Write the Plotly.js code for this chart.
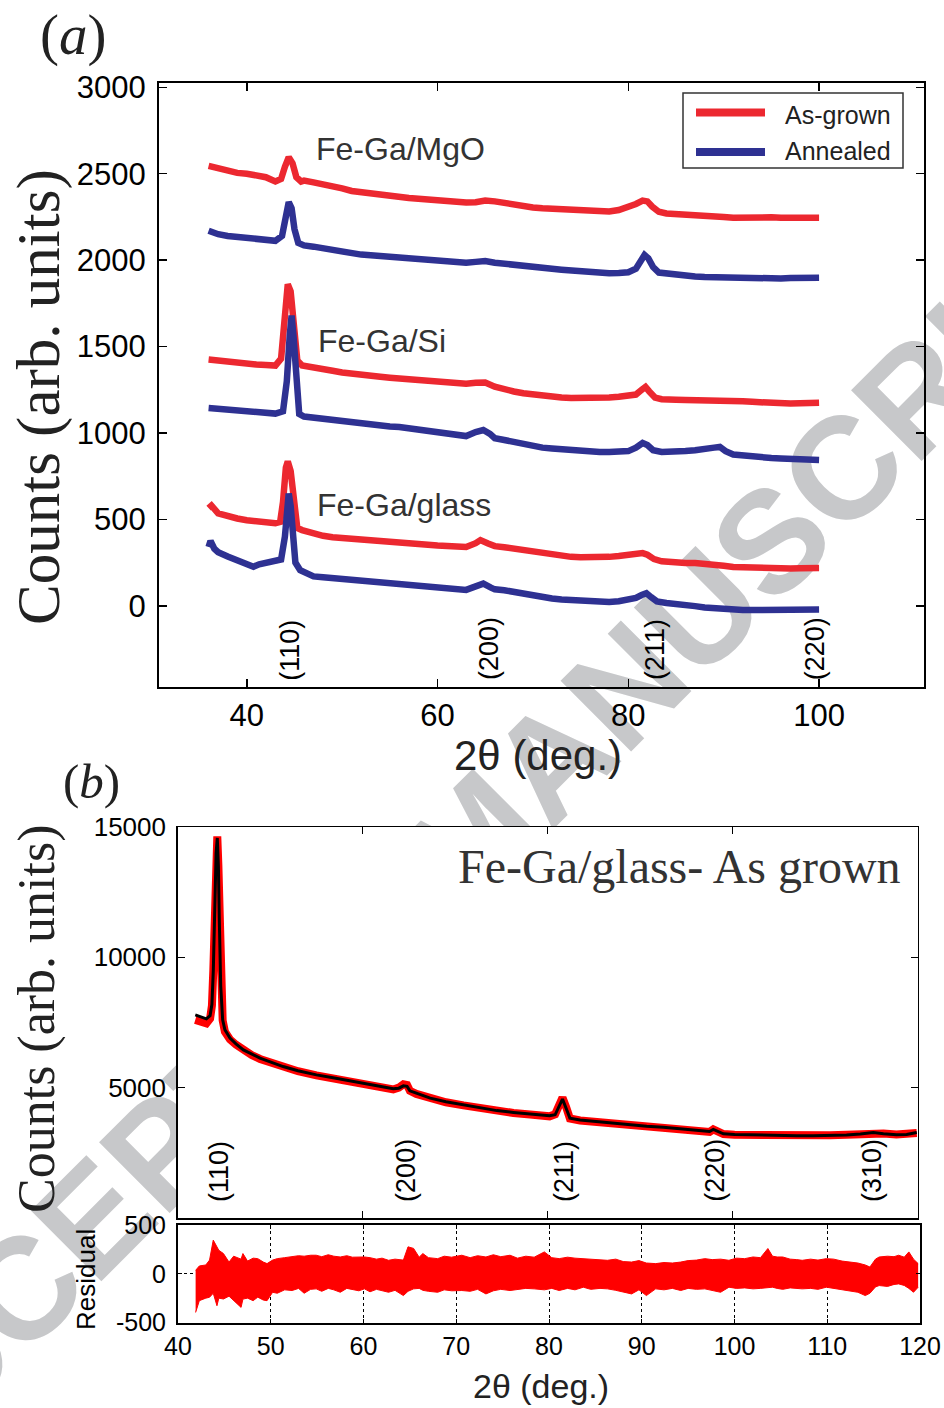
<!DOCTYPE html>
<html><head><meta charset="utf-8">
<script src="https://cdn.plot.ly/plotly-3.0.1.min.js"></script>
<style>html,body{margin:0;padding:0;background:#fff;}#chart{width:944px;height:1408px;}</style>
</head><body><div id="chart"></div>
<script>
// ---------- Panel (a): XRD patterns, 2theta (deg) vs counts (offset) ----------
const mgoAsX = [36,37,38,39,40,41,42,43,43.6,44,44.4,44.8,45.2,45.7,46,47,48,49,50,51,52,53,54,55,56,57,58,59,60,61,62,63,64,65,66,67,68,69,70,71,72,73,74,75,76,77,78,79,80,80.8,81.5,82,82.5,83.2,84,85,86,87,88,89,90,91,92,93,94,95,96,97,98,99,100];
const mgoAsY = [2545,2530,2515,2505,2500,2490,2480,2455,2470,2540,2595,2560,2480,2455,2460,2450,2440,2425,2415,2400,2392,2385,2380,2372,2365,2360,2355,2350,2345,2340,2336,2333,2335,2345,2340,2330,2320,2310,2305,2300,2298,2292,2290,2288,2285,2280,2282,2290,2305,2325,2345,2340,2310,2280,2270,2268,2262,2260,2258,2255,2250,2245,2248,2243,2250,2248,2245,2243,2245,2242,2245];

const mgoAnX = [36,37,38,39,40,41,42,43,43.7,44.1,44.4,44.7,45,45.4,46,47,48,49,50,51,52,53,54,55,56,57,58,59,60,61,62,63,64,65,66,67,68,69,70,71,72,73,74,75,76,77,78,79,80,80.8,81.3,81.7,82.1,82.6,83.2,84,85,86,87,88,89,90,91,92,93,94,95,96,97,98,99,100];
const mgoAnY = [2170,2150,2140,2135,2128,2120,2115,2112,2140,2250,2335,2300,2180,2100,2085,2078,2068,2058,2050,2042,2032,2028,2024,2020,2016,2010,2006,2000,1996,1992,1988,1985,1990,1995,1985,1978,1970,1962,1958,1955,1950,1945,1940,1936,1932,1926,1924,1926,1930,1950,1995,2030,2010,1960,1928,1922,1915,1910,1905,1902,1900,1898,1896,1895,1894,1896,1895,1894,1896,1898,1896,1898];

const siAsX = [36,37,38,39,40,41,42,43,43.6,44,44.3,44.6,44.9,45.3,45.8,46.5,47,48,49,50,51,52,53,54,55,56,57,58,59,60,61,62,63,64,65,66,67,68,69,70,71,72,73,74,75,76,77,78,79,80,80.8,81.4,81.8,82.2,82.8,83.5,84,85,86,87,88,89,90,91,92,93,94,95,96,97,98,99,100];
const siAsY = [1425,1418,1412,1405,1400,1396,1393,1390,1430,1650,1860,1820,1600,1420,1390,1385,1375,1368,1360,1350,1342,1335,1330,1325,1320,1315,1310,1305,1302,1300,1295,1290,1285,1290,1292,1268,1250,1240,1230,1222,1215,1210,1205,1202,1202,1200,1202,1205,1210,1215,1222,1250,1266,1240,1205,1195,1192,1192,1190,1190,1191,1190,1188,1186,1183,1180,1176,1173,1172,1170,1172,1170,1175];

const siAnX = [36,37,38,39,40,41,42,43,43.8,44.2,44.5,44.7,44.9,45.2,45.5,46,47,48,49,50,51,52,53,54,55,56,57,58,59,60,61,62,63,64,64.8,65.5,66,67,68,69,70,71,72,73,74,75,76,77,78,79,80,80.8,81.5,82,82.6,83.5,84,85,86,87,88,89,89.6,90.2,91,92,93,94,95,96,97,98,99,100];
const siAnY = [1145,1140,1133,1128,1122,1118,1116,1112,1125,1300,1560,1680,1560,1300,1110,1095,1088,1080,1075,1068,1060,1050,1045,1040,1037,1035,1028,1022,1018,1012,1000,990,982,1005,1017,995,970,959,948,935,922,915,910,905,901,897,893,890,890,890,895,915,942,930,900,890,890,892,895,900,903,915,919,895,875,868,862,858,855,852,848,845,846,843];

const glassAsX = [36,36.3,37,38,39,40,41,42,43,43.5,43.8,44.1,44.3,44.6,44.9,45.3,45.8,46.5,47,48,49,50,51,52,53,54,55,56,57,58,59,60,61,62,63,64,64.5,65.3,66,67,68,69,70,71,72,73,74,75,76,77,78,79,80,80.8,81.5,82,82.7,83.5,84.3,85,86,87,88,89,90,91,92,93,94,95,96,97,98,99,100];
const glassAsY = [565,580,535,518,505,495,488,480,478,485,600,800,835,780,600,450,438,425,418,405,397,392,388,382,376,372,366,362,358,355,352,349,346,342,340,362,380,360,345,339,330,320,312,305,298,290,283,281,280,281,283,288,294,300,305,295,270,257,252,250,248,247,244,238,232,225,222,220,218,217,216,216,217,216,218];

const glassAnX = [36,36.2,36.6,37,38,39,40,40.7,41.3,42,43,43.6,44,44.2,44.4,44.6,44.8,45.1,45.6,46.3,47,48,49,50,51,52,53,54,55,56,57,58,59,60,61,62,63,64,64.8,65.6,66,67,68,69,70,71,72,73,74,75,76,77,78,79,80,80.8,81.4,81.9,82.4,83,84,85,86,87,88,89,90,91,92,93,94,95,96,97,98,99,100];
const glassAnY = [340,375,330,310,285,262,238,226,240,246,258,268,400,560,650,580,420,250,206,185,170,165,160,156,152,149,145,140,135,131,125,118,111,105,100,95,92,112,128,105,95,90,80,68,55,48,42,36,33,30,26,22,22,26,33,45,62,73,50,25,16,12,6,-2,-10,-16,-20,-24,-25,-25,-24,-25,-24,-23,-24,-25,-22];

const sampleLabels = ['Fe-Ga/MgO','Fe-Ga/Si','Fe-Ga/glass'];
const seriesNames = ['As-grown','Annealed'];
const hklA = ['(110)','(200)','(211)','(220)'];
const hklPosA = [44.5,65.4,82.8,99.6];
const yTicksA = [0,500,1000,1500,2000,2500,3000];
const yTickTextA = ['0','500','1000','1500','2000','2500','3000'];
const xTicksA = [40,60,80,100];
const xTickTextA = ['40','60','80','100'];

// ---------- Panel (b): Fe-Ga/glass as grown, observed, fit and residual ----------
const twoThetaB = [41.9,42.5,43.1,43.5,43.7,43.85,44.0,44.15,44.28,44.4,44.5,44.65,44.86,45.1,45.65,46.3,47.1,48.0,48.9,50.0,51.4,53.0,55.0,56.8,58.6,60.4,62.2,63.3,63.9,64.4,64.8,65.1,65.8,67.3,69.0,70.9,72.7,74.5,76.3,78.1,79.5,80.2,80.8,81.2,81.6,82.0,82.4,83.5,85.3,87.0,88.9,90.7,92.5,94.3,96.1,97.5,97.9,98.3,99.0,100.2,101.5,103.3,105.1,106.9,108.7,110.5,112.3,113.8,115.2,116.3,117.7,118.8,119.9];
const obsB = [7600,7520,7470,7650,8150,9500,12000,14100,14640,13500,11400,8900,7580,7150,6850,6650,6420,6250,6100,5960,5800,5630,5470,5360,5260,5140,5020,4930,5000,5130,5100,4880,4760,4580,4440,4320,4210,4110,4030,3970,3920,3900,3980,4300,4620,4250,3820,3740,3680,3610,3550,3500,3460,3400,3330,3300,3400,3330,3220,3190,3180,3170,3160,3170,3160,3175,3190,3220,3290,3240,3200,3220,3260];
const fitB = [7790,7700,7640,7760,8200,9500,12000,14000,14580,13500,11400,8900,7600,7220,6900,6680,6450,6280,6130,5990,5810,5650,5490,5380,5270,5160,5040,4960,4980,5070,5050,4880,4790,4600,4460,4340,4230,4120,4050,3990,3940,3920,3960,4250,4560,4200,3830,3760,3700,3630,3570,3520,3480,3420,3350,3320,3400,3340,3230,3200,3190,3170,3160,3160,3160,3170,3185,3220,3275,3230,3190,3200,3280];

const resX = [41.9,42.3,43.0,43.4,43.8,44.2,44.4,44.9,45.5,46.0,46.8,47.0,47.5,48.1,48.6,49.2,49.6,50.2,50.7,51.5,52.3,53.0,53.6,54.3,54.9,55.5,56.2,56.8,57.5,58.2,58.8,59.5,60.1,60.7,61.4,62.0,62.7,63.4,64.3,64.8,65.4,66.0,66.4,67.0,68.0,68.7,69.5,70.6,71.5,72.3,73.2,74.0,74.8,75.8,76.6,77.5,78.4,79.5,80.3,81.1,82.0,82.8,83.7,84.5,85.5,86.3,87.2,88.0,88.9,89.7,90.5,91.5,92.4,93.3,94.2,95.0,95.9,96.8,97.6,98.5,99.4,100.2,101.1,102.0,102.8,103.6,104.1,104.6,105.2,106.0,106.7,107.3,108.2,109.0,109.9,110.7,111.6,112.5,113.3,114.1,114.6,115.2,115.6,116.5,117.2,117.7,118.3,118.8,119.3,119.8];
const resUpper = [35,80,90,140,345,280,241,207,120,180,150,207,130,160,155,120,104,140,155,165,172,185,180,190,190,175,195,180,172,185,170,175,172,165,150,160,138,150,140,276,260,170,207,165,155,180,170,190,165,185,172,195,175,190,160,180,170,224,165,155,170,160,155,150,145,138,150,125,120,135,110,104,115,110,120,135,140,155,145,150,138,160,155,172,165,259,180,172,172,150,145,138,150,140,155,150,130,120,110,90,69,150,172,180,175,190,170,224,150,104];
const resLower = [-397,-276,-250,-241,-200,-328,-250,-259,-230,-276,-345,-260,-250,-276,-240,-270,-276,-190,-200,-165,-172,-150,-200,-160,-155,-180,-150,-165,-190,-150,-160,-175,-155,-185,-160,-175,-190,-170,-224,-180,-155,-150,-170,-180,-190,-165,-175,-172,-180,-160,-207,-175,-160,-172,-165,-150,-155,-165,-150,-172,-150,-165,-138,-160,-150,-155,-170,-190,-207,-165,-224,-155,-165,-150,-172,-150,-160,-155,-175,-190,-138,-150,-145,-155,-150,-140,-138,-150,-160,-145,-150,-155,-150,-160,-138,-150,-160,-172,-190,-224,-200,-135,-121,-130,-110,-104,-120,-150,-190,-138];

const hklB = ['(110)','(200)','(211)','(220)','(310)'];
const hklPosB = [44.4,64.6,81.7,98.1,115.0];
const xTicksB = [40,60,80,100,120];
const yTicksB = [5000,10000,15000];
const yTickTextB = ['5000','10000','15000'];
const xTicksRes = [40,50,60,70,80,90,100,110,120];
const xTickTextRes = ['40','50','60','70','80','90','100','110','120'];
const yTicksRes = [-500,0,500];
const yTickTextRes = ['-500','0','500'];
const watermarkText = 'ACCEPTED MANUSCRIPT';

// ---------- helpers: page pixel -> paper fraction ----------
const W = 944, H = 1408;
const fx = p => p / W;
const fy = p => 1 - p / H;

const RED_A = '#ec2830', BLUE_A = '#2e3192';
const SANS = 'Liberation Sans, Arial, sans-serif';
const SERIF = 'Liberation Serif, Times New Roman, serif';

const lineA = (x, y, color, name) => ({
  x, y, type: 'scatter', mode: 'lines', name, xaxis: 'x', yaxis: 'y',
  line: {color, width: 6.5}, showlegend: false, hoverinfo: 'x+y'
});

const traces = [
  lineA(mgoAsX, mgoAsY, RED_A, seriesNames[0] + ' ' + sampleLabels[0]),
  lineA(mgoAnX, mgoAnY, BLUE_A, seriesNames[1] + ' ' + sampleLabels[0]),
  lineA(siAsX, siAsY, RED_A, seriesNames[0] + ' ' + sampleLabels[1]),
  lineA(siAnX, siAnY, BLUE_A, seriesNames[1] + ' ' + sampleLabels[1]),
  lineA(glassAsX, glassAsY, RED_A, seriesNames[0] + ' ' + sampleLabels[2]),
  lineA(glassAnX, glassAnY, BLUE_A, seriesNames[1] + ' ' + sampleLabels[2]),
  {x: twoThetaB, y: obsB, type: 'scatter', mode: 'lines', name: 'Observed', xaxis: 'x2', yaxis: 'y2',
   line: {color: '#ff0000', width: 8}, showlegend: false},
  {x: twoThetaB, y: fitB, type: 'scatter', mode: 'lines', name: 'Fit', xaxis: 'x2', yaxis: 'y2',
   line: {color: '#000000', width: 3}, showlegend: false},
  {x: resX, y: resUpper, type: 'scatter', mode: 'lines', name: 'Residual max', xaxis: 'x3', yaxis: 'y3',
   line: {color: '#ff0000', width: 1}, showlegend: false},
  {x: resX, y: resLower, type: 'scatter', mode: 'lines', name: 'Residual min', xaxis: 'x3', yaxis: 'y3',
   line: {color: '#ff0000', width: 1}, fill: 'tonexty', fillcolor: '#ff0000', showlegend: false}
];

const axBase = {
  showline: true, linecolor: '#000', mirror: 'ticks', ticks: 'inside', tickcolor: '#000',
  showgrid: false, zeroline: false, automargin: false, tickmode: 'array'
};

const annotations = [];
const ann = (o) => annotations.push(Object.assign({showarrow: false, xref: 'paper', yref: 'paper'}, o));

// panel labels
ann({text: '(<i>a</i>)', x: fx(38), y: fy(35), xanchor: 'left', yanchor: 'middle', font: {family: SERIF, size: 57, color: '#222'}});
ann({text: '(<i>b</i>)', x: fx(61), y: fy(781), xanchor: 'left', yanchor: 'middle', font: {family: SERIF, size: 49, color: '#222'}});
// axis titles
ann({text: 'Counts (arb. units)', x: fx(39), y: fy(397), xanchor: 'center', yanchor: 'middle', textangle: -90, font: {family: SERIF, size: 61, color: '#222'}});
ann({text: 'Counts (arb. units)', x: fx(37), y: fy(1019), xanchor: 'center', yanchor: 'middle', textangle: -90, font: {family: SERIF, size: 52, color: '#222'}});
ann({text: 'Residual', x: fx(86), y: fy(1280), xanchor: 'center', yanchor: 'middle', textangle: -90, font: {family: SANS, size: 26, color: '#000'}});
ann({text: '2θ (deg.)', x: fx(538), y: fy(755), xanchor: 'center', yanchor: 'middle', font: {family: SANS, size: 42, color: '#222'}});
ann({text: '2θ (deg.)', x: fx(541), y: fy(1386), xanchor: 'center', yanchor: 'middle', font: {family: SANS, size: 34, color: '#222'}});
// sample labels
ann({text: sampleLabels[0], x: fx(314), y: fy(149), xanchor: 'left', yanchor: 'middle', font: {family: SANS, size: 32, color: '#333'}});
ann({text: sampleLabels[1], x: fx(316), y: fy(341), xanchor: 'left', yanchor: 'middle', font: {family: SANS, size: 32, color: '#333'}});
ann({text: sampleLabels[2], x: fx(315), y: fy(505), xanchor: 'left', yanchor: 'middle', font: {family: SANS, size: 32, color: '#333'}});
ann({text: 'Fe-Ga/glass- As grown', x: fx(456), y: fy(866), xanchor: 'left', yanchor: 'middle', font: {family: SERIF, size: 48, color: '#333'}});
// legend text
ann({text: seriesNames[0], x: fx(783), y: fy(115), xanchor: 'left', yanchor: 'middle', font: {family: SANS, size: 25, color: '#222'}});
ann({text: seriesNames[1], x: fx(783), y: fy(150.5), xanchor: 'left', yanchor: 'middle', font: {family: SANS, size: 25, color: '#222'}});
// hkl labels
hklA.forEach((t, i) => annotations.push({text: t, x: hklPosA[i], xref: 'x', y: 0.009, yref: 'y domain',
  xanchor: 'center', yanchor: 'bottom', textangle: -90, showarrow: false, borderpad: 0,
  font: {family: SANS, size: 27, color: '#000'}}));
hklB.forEach((t, i) => annotations.push({text: t, x: hklPosB[i], xref: 'x2', y: 0.038, yref: 'y2 domain',
  xanchor: 'center', yanchor: 'bottom', textangle: -90, showarrow: false, borderpad: 0,
  font: {family: SANS, size: 27, color: '#000'}}));

const shapes = [
  // watermark (behind everything)
  {type: 'rect', xref: 'paper', yref: 'paper', x0: fx(460), x1: fx(470), y0: fy(832), y1: fy(822),
   line: {width: 0}, fillcolor: 'rgba(0,0,0,0)', layer: 'below',
   label: {text: watermarkText, textangle: -45, textposition: 'middle center',
     font: {family: SANS, size: 145, color: '#c7c8ca', weight: 'bold'}}},
  // opaque backgrounds of panel (b)
  {type: 'rect', xref: 'paper', yref: 'paper', x0: fx(177.7), x1: fx(917.7), y0: fy(1218), y1: fy(827),
   line: {width: 0}, fillcolor: '#fff', layer: 'below'},
  {type: 'rect', xref: 'paper', yref: 'paper', x0: fx(178), x1: fx(920), y0: fy(1322.5), y1: fy(1225),
   line: {width: 0}, fillcolor: '#fff', layer: 'below'},
  // legend frame and samples
  {type: 'rect', xref: 'paper', yref: 'paper', x0: fx(683), x1: fx(903), y0: fy(168), y1: fy(93),
   line: {color: '#333', width: 1.5}, fillcolor: '#fff', layer: 'above'},
  {type: 'line', xref: 'paper', yref: 'paper', x0: fx(696), x1: fx(765), y0: fy(112.5), y1: fy(112.5),
   line: {color: RED_A, width: 8}, layer: 'above'},
  {type: 'line', xref: 'paper', yref: 'paper', x0: fx(696), x1: fx(765), y0: fy(152), y1: fy(152),
   line: {color: BLUE_A, width: 8}, layer: 'above'}
];

const layout = {
  width: W, height: H, margin: {l: 0, r: 0, t: 0, b: 0},
  paper_bgcolor: '#fff', plot_bgcolor: 'rgba(0,0,0,0)',
  font: {family: SANS, color: '#000'},
  showlegend: false,
  xaxis: Object.assign({}, axBase, {domain: [fx(159), fx(924)], range: [30.8, 111], anchor: 'y',
    tickvals: xTicksA, ticktext: xTickTextA, ticklen: 8, tickwidth: 1.5, linewidth: 2,
    tickfont: {size: 31, family: SANS}, ticklabelstandoff: 0}),
  yaxis: Object.assign({}, axBase, {domain: [fy(687), fy(83)], range: [-470, 3025], anchor: 'x',
    tickvals: yTicksA, ticktext: yTickTextA, ticklen: 8, tickwidth: 1.5, linewidth: 2,
    tickfont: {size: 31, family: SANS}, ticklabelstandoff: 5}),
  xaxis2: Object.assign({}, axBase, {domain: [fx(177.7), fx(917.7)], range: [40, 120], anchor: 'y2',
    tickvals: xTicksB, showticklabels: false, ticklen: 7, tickwidth: 1, linewidth: 1.5}),
  yaxis2: Object.assign({}, axBase, {domain: [fy(1218), fy(827)], range: [0, 15000], anchor: 'x2',
    tickvals: yTicksB, ticktext: yTickTextB, ticklen: 7, tickwidth: 1, linewidth: 1.5,
    tickfont: {size: 26, family: SANS}, ticklabelstandoff: 5}),
  xaxis3: Object.assign({}, axBase, {domain: [fx(178), fx(920)], range: [40, 120], anchor: 'y3',
    tickvals: xTicksRes, ticktext: xTickTextRes, ticklen: 4, tickwidth: 1, linewidth: 2,
    showgrid: true, gridcolor: '#000', gridwidth: 1, griddash: 'dot',
    tickfont: {size: 25, family: SANS}, ticklabelstandoff: 0}),
  yaxis3: Object.assign({}, axBase, {domain: [fy(1322.5), fy(1225)], range: [-500, 500], anchor: 'x3',
    tickvals: yTicksRes, ticktext: yTickTextRes, ticklen: 4, tickwidth: 1, linewidth: 2,
    showgrid: true, gridcolor: '#000', gridwidth: 1, griddash: 'dot',
    tickfont: {size: 25, family: SANS}, ticklabelstandoff: 5}),
  annotations, shapes
};

Plotly.newPlot('chart', traces, layout, {displayModeBar: false, staticPlot: true});
</script></body></html>
